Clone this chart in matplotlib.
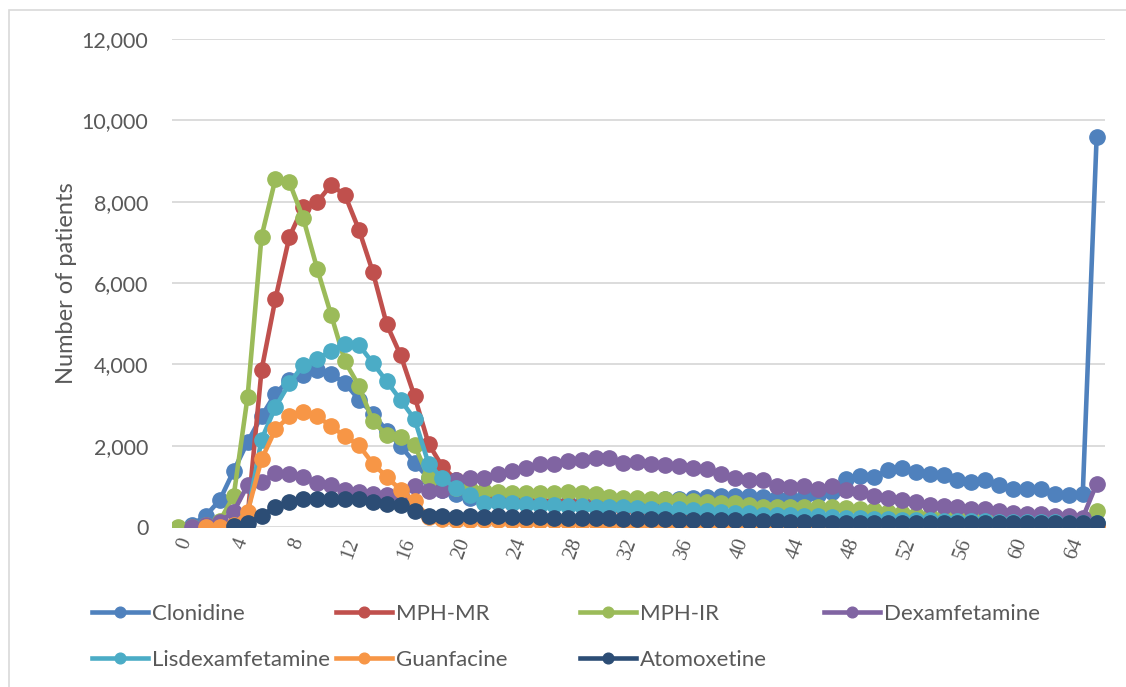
import numpy as np
import matplotlib
matplotlib.use("Agg")
import matplotlib.pyplot as plt
from matplotlib.patches import Rectangle

nan = np.nan

# age / month index 0..66
x = list(range(67))
xticks = list(range(0, 65, 4))

clonidine = [nan, 50, 280, 660, 1380, 2090, 2720, 3280, 3620, 3750, 3860, 3760, 3540, 3130, 2790, 2360,
             1990, 1580, 1200, 900, 800, 720, 650, 620, 600, 600, 600, 590, 590, 600, 600, 610,
             620, 640, 650, 680, 700, 720, 740, 760, 760, 770, 740, 710, 705, 744, 790, 870,
             1190, 1260, 1230, 1400, 1450, 1355, 1310, 1280, 1160, 1110, 1160, 1030, 945, 945,
             930, 800, 780, 800, 9600]
mph_mr = [nan, nan, nan, nan, 50, 250, 3850, 5610, 7130, 7880, 7990, 8410, 8160, 7310, 6270, 4980,
          4220, 3210, 2050, 1480, 1150, 900, 750, 680, 640, 620, 600, 580, 560, 540, 520, 500,
          470, 440, 420, 400, 380, 360, 340, 320, 300, 280, 260, 240, 220, 200, 190, 180,
          170, 160, 150, 140, 130, 120, 110, 105, 100, 95, 90, 90, 85, 85, 80, 80,
          75, 75, 80]
mph_ir = [0, 10, 40, 150, 760, 3200, 7140, 8560, 8480, 7590, 6350, 5220, 4070, 3470, 2600, 2260,
          2210, 2010, 1220, 1050, 960, 924, 892, 868, 843, 843, 826, 826, 868, 826, 810, 744,
          703, 703, 679, 679, 663, 646, 622, 597, 580, 540, 499, 499, 485, 499, 490, 480,
          458, 450, 417, 376, 335, 294, 260, 250, 240, 230, 225, 220, 215, 210, 205, 200,
          200, 195, 390]
dexamfetamine = [nan, 0, 50, 120, 375, 1030, 1110, 1330, 1310, 1230, 1090, 1030, 920, 870, 810, 790,
                 780, 1000, 880, 900, 1150, 1200, 1200, 1300, 1380, 1450, 1560, 1560, 1620, 1640, 1690, 1700,
                 1580, 1600, 1560, 1520, 1490, 1460, 1420, 1300, 1210, 1160, 1160, 1020, 980, 1000, 930, 1020,
                 910, 870, 770, 720, 660, 620, 550, 520, 480, 440, 440, 400, 350, 330,
                 310, 280, 280, 225, 1065]
lisdexamfetamine = [nan, nan, nan, nan, 30, 300, 2150, 2950, 3530, 3980, 4140, 4320, 4510, 4480, 4030, 3580,
                    3120, 2650, 1560, 1194, 950, 785, 597, 622, 580, 564, 540, 540, 515, 515, 499, 499,
                    480, 458, 433, 417, 433, 417, 400, 376, 352, 335, 300, 294, 290, 280, 260, 240,
                    220, 210, 200, 190, 180, 170, 160, 155, 150, 145, 140, 135, 130, 125,
                    120, 115, 110, 110, 110]
guanfacine = [nan, nan, 0, 0, 60, 375, 1660, 2400, 2720, 2830, 2720, 2480, 2230, 2010, 1560, 1230,
              910, 630, 250, 200, 180, 170, 160, 160, 150, 150, 140, 140, 130, 130, 120, 120,
              110, 110, 100, 100, 95, 90, 90, 85, 80, 80, 75, 70, 70, 65, 60, 60,
              55, 55, 50, 50, 45, 45, 40, 40, 40, 35, 35, 35, 30, 30,
              30, 30, 30, 30, 30]
atomoxetine = [nan, nan, nan, nan, 30, 90, 270, 500, 620, 680, 700, 700, 690, 680, 620, 560,
               540, 400, 280, 270, 255, 270, 240, 270, 255, 250, 240, 230, 230, 220, 215, 210,
               200, 195, 190, 185, 180, 175, 170, 165, 160, 155, 150, 140, 130, 120, 115, 110,
               105, 100, 100, 100, 95, 95, 95, 95, 90, 90, 90, 90, 90, 90,
               90, 90, 90, 90, 90]

series = [
    ("Clonidine", clonidine, "#4F81BD"),
    ("MPH-MR", mph_mr, "#C0504D"),
    ("MPH-IR", mph_ir, "#9BBB59"),
    ("Dexamfetamine", dexamfetamine, "#8064A2"),
    ("Lisdexamfetamine", lisdexamfetamine, "#4BACC6"),
    ("Guanfacine", guanfacine, "#F79646"),
    ("Atomoxetine", atomoxetine, "#2C4D75"),
]

plt.rcParams['font.family'] = ['Lato', 'DejaVu Sans']
txt = "#595959"

fig = plt.figure(figsize=(11.26, 6.87), dpi=100)
ax = fig.add_axes([172 / 1126, 1 - 527 / 687, (1105 - 172) / 1126, (527 - 39) / 687])

# chart border (left + top visible)
fig.patches.append(Rectangle((9 / 1126, -0.05), 1.2, 1 - 10 / 687 + 0.05, transform=fig.transFigure,
                             fill=False, edgecolor="#D9D9D9", linewidth=1.2))

handles = []
for name, vals, col in series:
    ln, = ax.plot(x, vals, color=col, linewidth=3.3, marker="o", markersize=11,
                  markeredgecolor=col, label=name, solid_joinstyle="round", zorder=3)
    handles.append(ln)

ax.set_xlim(-0.43, 66.6)
ax.set_ylim(0, 12000)
ax.set_yticks(range(0, 12001, 2000))
ax.set_yticklabels([f"{v:,}" for v in range(0, 12001, 2000)], fontsize=15.5, color=txt)
ax.set_xticks(xticks)
ax.set_xticklabels([str(t) for t in xticks], rotation=70, ha="right", va="top",
                   rotation_mode="anchor", fontsize=15, color=txt, family="Liberation Serif")
ax.tick_params(length=0)
ax.tick_params(axis="y", pad=17)
ax.tick_params(axis="x", pad=6)
ax.grid(axis="y", color="#D9D9D9", linewidth=1.3, zorder=0)
for s in ax.spines.values():
    s.set_visible(False)
ax.set_ylabel("Number of patients", fontsize=17, color=txt, labelpad=3)

# legend laid out like the Excel one: 4 fixed-width columns, 2 rows
for k, h in enumerate(handles):
    row, colno = divmod(k, 4)
    lx = (92 + 244 * colno) / 1126
    ly = 1 - (614 + 46 * row) / 687
    fig.legend(handles=[h], loc="center left", bbox_to_anchor=(lx, ly), frameon=False,
               fontsize=16, handlelength=2.5, handletextpad=0.2, borderpad=0, borderaxespad=0,
               labelcolor=txt, markerscale=0.7)

fig.savefig("out.png", dpi=100)
